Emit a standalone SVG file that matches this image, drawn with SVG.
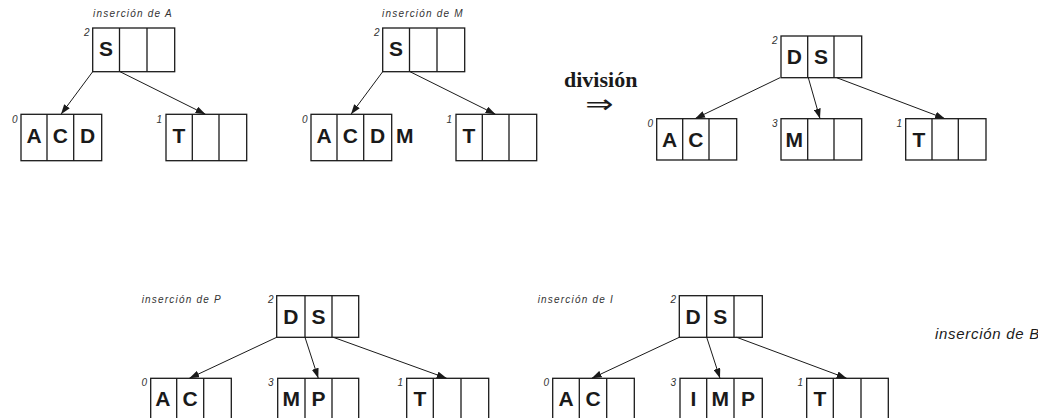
<svg xmlns="http://www.w3.org/2000/svg" width="1038" height="418" viewBox="0 0 1038 418">
<style>
.box{fill:#fff;stroke:#1a1a1a;stroke-width:1.3}
.dv{stroke:#1a1a1a;stroke-width:1.3}
.k{font-family:"Liberation Sans",Arial,sans-serif;font-weight:bold;font-size:21px;fill:#1a1a1a;text-anchor:middle}
.n{font-family:"Liberation Sans",Arial,sans-serif;font-style:italic;font-size:10px;fill:#333;text-anchor:end}
.t{font-family:"Liberation Sans",Arial,sans-serif;font-style:italic;font-size:10px;letter-spacing:1.2px;fill:#333}
.e{stroke:#1a1a1a;stroke-width:1;fill:none;marker-end:url(#ah)}
</style>
<defs>
<marker id="ah" markerUnits="userSpaceOnUse" markerWidth="10" markerHeight="7" refX="10" refY="3.5" orient="auto">
<path d="M0,0 L10,3.5 L0,7 z" fill="#1a1a1a"/>
</marker>
</defs>
<rect width="1038" height="418" fill="#fff"/>

<!-- Tree A -->
<text class="t" x="93" y="17.3">inserción de A</text>
<g id="a-root">
<rect class="box" x="92.7" y="28" width="82" height="43.7"/>
<line class="dv" x1="119.5" y1="28" x2="119.5" y2="71.7"/><line class="dv" x1="147" y1="28" x2="147" y2="71.7"/>
<text class="n" x="89.5" y="35.7">2</text>
<text class="k" x="106" y="56">S</text>
</g>
<g id="a-left">
<rect class="box" x="21" y="114.3" width="80.7" height="46.4"/>
<line class="dv" x1="47" y1="114.3" x2="47" y2="160.7"/><line class="dv" x1="73.7" y1="114.3" x2="73.7" y2="160.7"/>
<text class="n" x="17.5" y="123">0</text>
<text class="k" x="34" y="143.3">A</text><text class="k" x="60.3" y="143.3">C</text><text class="k" x="87.5" y="143.3">D</text>
</g>
<g id="a-right">
<rect class="box" x="166" y="114.3" width="80.7" height="46.4"/>
<line class="dv" x1="192.3" y1="114.3" x2="192.3" y2="160.7"/><line class="dv" x1="219" y1="114.3" x2="219" y2="160.7"/>
<text class="n" x="162" y="123">1</text>
<text class="k" x="179" y="143.3">T</text>
</g>

<!-- Tree B -->
<text class="t" x="382" y="17.3">inserción de M</text>
<g id="b-root">
<rect class="box" x="382.7" y="28" width="82" height="43.7"/>
<line class="dv" x1="409.5" y1="28" x2="409.5" y2="71.7"/><line class="dv" x1="437" y1="28" x2="437" y2="71.7"/>
<text class="n" x="379.5" y="35.7">2</text>
<text class="k" x="396" y="56">S</text>
</g>
<g id="b-left">
<rect class="box" x="311" y="114.3" width="80.7" height="46.4"/>
<line class="dv" x1="337" y1="114.3" x2="337" y2="160.7"/><line class="dv" x1="363.7" y1="114.3" x2="363.7" y2="160.7"/>
<text class="n" x="307.5" y="123">0</text>
<text class="k" x="324" y="143.3">A</text><text class="k" x="350.3" y="143.3">C</text><text class="k" x="377.5" y="143.3">D</text>
<text class="k" x="396" y="143.3" style="text-anchor:start">M</text>
</g>
<g id="b-right">
<rect class="box" x="456" y="114.3" width="80.7" height="46.4"/>
<line class="dv" x1="482.3" y1="114.3" x2="482.3" y2="160.7"/><line class="dv" x1="509" y1="114.3" x2="509" y2="160.7"/>
<text class="n" x="452" y="123">1</text>
<text class="k" x="469" y="143.3">T</text>
</g>

<!-- division -->
<text x="564" y="86.7" style="font-family:'Liberation Serif','Times New Roman',serif;font-weight:bold;font-size:22px;fill:#1a1a1a">división</text>
<text x="0" y="0" transform="translate(599.5 113) scale(1.3 1)" style="font-family:'DejaVu Sans',sans-serif;font-size:26px;fill:#1a1a1a;text-anchor:middle">⇒</text>

<!-- Tree C -->
<g id="c-root">
<rect class="box" x="781" y="36" width="80.7" height="41.7"/>
<line class="dv" x1="807.7" y1="36" x2="807.7" y2="77.7"/><line class="dv" x1="834" y1="36" x2="834" y2="77.7"/>
<text class="n" x="777.5" y="43.5">2</text>
<text class="k" x="794.3" y="64">D</text><text class="k" x="821" y="64">S</text>
</g>
<g id="c-0">
<rect class="box" x="656.7" y="118.7" width="80" height="41.3"/>
<line class="dv" x1="682.7" y1="118.7" x2="682.7" y2="160"/><line class="dv" x1="709" y1="118.7" x2="709" y2="160"/>
<text class="n" x="653" y="127">0</text>
<text class="k" x="669.7" y="146.5">A</text><text class="k" x="695.8" y="146.5">C</text>
</g>
<g id="c-3">
<rect class="box" x="781" y="118.7" width="80.7" height="41.3"/>
<line class="dv" x1="807.7" y1="118.7" x2="807.7" y2="160"/><line class="dv" x1="834" y1="118.7" x2="834" y2="160"/>
<text class="n" x="777.5" y="127">3</text>
<text class="k" x="794.3" y="146.5">M</text>
</g>
<g id="c-1">
<rect class="box" x="905.7" y="118.7" width="80.3" height="41.3"/>
<line class="dv" x1="932" y1="118.7" x2="932" y2="160"/><line class="dv" x1="958.3" y1="118.7" x2="958.3" y2="160"/>
<text class="n" x="902" y="127">1</text>
<text class="k" x="918.8" y="146.5">T</text>
</g>

<!-- Tree D -->
<text class="t" x="141.7" y="303.3">inserción de P</text>
<g id="d-root">
<rect class="box" x="276.7" y="295.7" width="82" height="41.6"/>
<line class="dv" x1="305" y1="295.7" x2="305" y2="337.3"/><line class="dv" x1="332" y1="295.7" x2="332" y2="337.3"/>
<text class="n" x="273.5" y="303">2</text>
<text class="k" x="290.8" y="323.5">D</text><text class="k" x="318.5" y="323.5">S</text>
</g>
<g id="d-0">
<rect class="box" x="150.7" y="378.3" width="80.6" height="50"/>
<line class="dv" x1="176.7" y1="378.3" x2="176.7" y2="430"/><line class="dv" x1="203.7" y1="378.3" x2="203.7" y2="430"/>
<text class="n" x="147" y="386">0</text>
<text class="k" x="162.8" y="405.8">A</text><text class="k" x="190.2" y="405.8">C</text>
</g>
<g id="d-3">
<rect class="box" x="277.7" y="378.3" width="81" height="50"/>
<line class="dv" x1="305" y1="378.3" x2="305" y2="430"/><line class="dv" x1="332" y1="378.3" x2="332" y2="430"/>
<text class="n" x="273.5" y="386">3</text>
<text class="k" x="291.3" y="405.8">M</text><text class="k" x="318.5" y="405.8">P</text>
</g>
<g id="d-1">
<rect class="box" x="406.7" y="378.3" width="82" height="50"/>
<line class="dv" x1="433.3" y1="378.3" x2="433.3" y2="430"/><line class="dv" x1="461" y1="378.3" x2="461" y2="430"/>
<text class="n" x="403" y="386">1</text>
<text class="k" x="420" y="405.8">T</text>
</g>

<!-- Tree E -->
<text class="t" x="537.7" y="303.3">inserción de I</text>
<g id="e-root">
<rect class="box" x="679.3" y="295.7" width="83" height="41.6"/>
<line class="dv" x1="706.7" y1="295.7" x2="706.7" y2="337.3"/><line class="dv" x1="734" y1="295.7" x2="734" y2="337.3"/>
<text class="n" x="676" y="303">2</text>
<text class="k" x="693" y="323.5">D</text><text class="k" x="720.3" y="323.5">S</text>
</g>
<g id="e-0">
<rect class="box" x="552.7" y="378.3" width="81.6" height="50"/>
<line class="dv" x1="579.3" y1="378.3" x2="579.3" y2="430"/><line class="dv" x1="606.7" y1="378.3" x2="606.7" y2="430"/>
<text class="n" x="549" y="386">0</text>
<text class="k" x="566" y="405.8">A</text><text class="k" x="593" y="405.8">C</text>
</g>
<g id="e-3">
<rect class="box" x="680" y="378.3" width="82.3" height="50"/>
<line class="dv" x1="706.7" y1="378.3" x2="706.7" y2="430"/><line class="dv" x1="734" y1="378.3" x2="734" y2="430"/>
<text class="n" x="676" y="386">3</text>
<text class="k" x="693.3" y="405.8">I</text><text class="k" x="720.3" y="405.8">M</text><text class="k" x="748" y="405.8">P</text>
</g>
<g id="e-1">
<rect class="box" x="806.7" y="378.3" width="81.6" height="50"/>
<line class="dv" x1="833.3" y1="378.3" x2="833.3" y2="430"/><line class="dv" x1="861" y1="378.3" x2="861" y2="430"/>
<text class="n" x="803" y="386">1</text>
<text class="k" x="820" y="405.8">T</text>
</g>

<text x="935" y="338.5" style="font-family:'Liberation Sans',Arial,sans-serif;font-style:italic;font-size:15px;letter-spacing:0.7px;fill:#1a1a1a">inserción de B</text>

<g id="edges">
<line class="e" x1="92.7" y1="71.7" x2="61" y2="114.3"/>
<line class="e" x1="120" y1="71.7" x2="205.5" y2="114.3"/>
<line class="e" x1="382.7" y1="71.7" x2="351" y2="114.3"/>
<line class="e" x1="410" y1="71.7" x2="495.5" y2="114.3"/>
<line class="e" x1="780" y1="77.7" x2="695" y2="118.7"/>
<line class="e" x1="808.3" y1="77.7" x2="820" y2="118.7"/>
<line class="e" x1="836.7" y1="77.7" x2="945" y2="118.7"/>
<line class="e" x1="276.7" y1="337.3" x2="189.3" y2="378.3"/>
<line class="e" x1="305" y1="337.3" x2="318.3" y2="378.3"/>
<line class="e" x1="333.3" y1="337.3" x2="446.7" y2="378.3"/>
<line class="e" x1="679.3" y1="337.3" x2="591.7" y2="378.3"/>
<line class="e" x1="706.7" y1="337.3" x2="720" y2="378.3"/>
<line class="e" x1="736.7" y1="337.3" x2="846.7" y2="378.3"/>
</g>
</svg>
